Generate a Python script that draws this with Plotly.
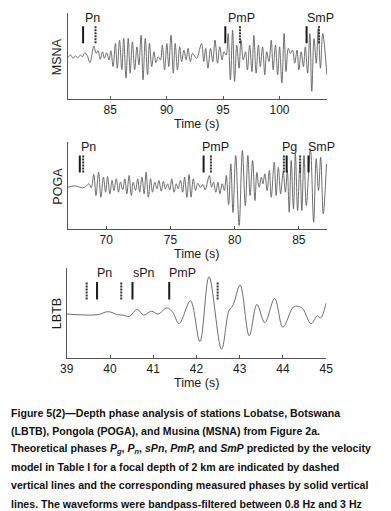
import plotly.graph_objects as go

W, H = 391, 511

# ---------------- data ----------------
MSNA_T = [81.27, 81.50, 81.70, 81.90, 82.12, 82.35, 82.55, 82.75, 82.98, 83.21,
          83.55, 83.75, 83.92, 84.12, 84.32, 84.49, 84.69, 84.89, 85.06, 85.26,
          85.46, 85.63, 85.83, 86.03, 86.20, 86.40, 86.60, 86.77, 86.97, 87.17,
          87.37, 87.54, 87.74, 87.91, 88.11, 88.31, 88.48, 88.68, 88.88, 89.05,
          89.25, 89.45, 89.62, 89.82, 90.02, 90.19, 90.39, 90.59, 90.76, 90.96,
          91.16, 91.33, 91.53, 91.73, 91.90, 92.10, 92.30,
          92.66, 93.09, 93.29, 93.46, 93.66, 93.89, 94.09, 94.29, 94.51, 94.71,
          94.91, 95.08, 95.28, 95.45, 95.65, 95.85, 96.02, 96.22, 96.42, 96.59,
          96.79, 96.99, 97.16, 97.36, 97.56, 97.73, 97.93, 98.13, 98.30, 98.50,
          98.70, 98.87, 99.07, 99.27, 99.44, 99.64, 99.84, 100.01, 100.21, 100.41,
          100.58, 100.78, 100.98, 101.15, 101.35, 101.55, 101.72, 101.92, 102.12, 102.29,
          102.49, 102.69, 102.86, 103.06, 103.26, 103.43, 103.63, 103.83, 104.20]
MSNA_A = [-0.3, 2, -1.3, 1, -0.7, 1.7, 0.3, 4.3, 1, -5.7,
          11, 3.7, 6.3, -2.3, 5.3, -1.3, 4.3, -3, 6.3, -9.7,
          13.7, -11.3, 17, -13, 18.7, -21.3, 18.7, -16.3, 15.3, -13,
          10.3, -8, 22, -23, 18.7, -18, 13.7, -9.7, 5.3, -5.7,
          0.3, -3, 12, -13, 13.7, -9.7, 22, -16.3, 13.7, -13,
          10.3, -4.7, 7, -3, 8.7, -4.7, 3.7,
          -1.3, 13.7, -4.7, 8.7, -11.3, 8.7, -4.7, 17, -6.3, 10.3,
          -3, 5.3, 2, 23.7, -23, 27, -24.7, 12, -11.3, 17,
          -3, 5.3, -13, 12, -14.7, 22, -16.3, 12, -9.7, 10.3,
          -18, 5.3, -4.7, 17, -13, 12, -18, 10.3, -26.3, 23.7,
          -14.7, 8.7, 3.7, 7, -6.3, 7, -13, 5.3, -9.7, 10.3,
          -16.3, 23.7, -34.7, 18.7, -6.3, 28.7, -11.3, 23.7, -18]

POGA_T = [67.03, 67.53, 68.15, 68.40, 68.65, 68.83, 69.03, 69.20, 69.40, 69.58,
          69.78, 69.95, 70.10, 70.28, 70.45, 70.60, 70.78, 70.95, 71.10, 71.28,
          71.45, 71.60, 71.78, 71.95, 72.10, 72.28, 72.45, 72.60, 72.78, 72.95,
          73.10, 73.28, 73.45, 73.60, 73.78, 73.95, 74.10, 74.28, 74.45, 74.60,
          74.78, 74.95, 75.10, 75.28, 75.45, 75.60, 75.78, 75.95, 76.10, 76.28,
          76.45, 76.60, 76.78, 76.95,
          77.13, 77.33, 77.53, 77.70, 78.03, 78.20, 78.35, 78.53, 78.70, 78.85,
          79.03, 79.20, 79.35, 79.53, 79.70, 79.87, 80.08, 80.35, 80.60, 80.83,
          81.03, 81.20, 81.40, 81.58, 81.73, 81.90, 82.08, 82.20, 82.35, 82.53,
          82.70, 82.85, 83.08, 83.23, 83.40, 83.58, 83.78, 83.95, 84.10, 84.25,
          84.40, 84.58, 84.73, 84.90, 85.08, 85.23, 85.40, 85.58, 85.90, 86.15,
          86.35, 86.53, 86.70, 86.90, 87.15]
POGA_A = [-0.7, 0.7, -1.3, 0, 2.7, -1.3, 12, -9, 14.3, -10.7,
          9.3, -5.7, 10, -7.3, 6, -4, 7.7, -5.7, 4.3, -3.3,
          7.7, -7.3, 11, -9, 4.3, -4, 7.7, -5.7, 9.3, -7.3,
          14.3, -10.7, 7.7, -5.7, 4.3, -2.3, 6, -4.7, 5.3, -2.3,
          2.7, -3.3, 7.7, -5.7, 2.7, -2.3, 6, -5.7, 9.3, -10.7,
          12, -10.7, 7.7, -4,
          3.3, -1, 2, -3.3, 11, -0.7, 4.3, -5.7, 4.3, -7.3,
          2.7, -4, 11, -18, 22.7, -26, 31, -39, 36, -19,
          31, -9, 26, -14, 14, -0.7, 9.3, 2.7, 12.7, -4,
          16, -10.7, 24.3, -9, 19.3, -7.3, 14.3, -5.7, 16, -25.7,
          26, -22.3, 32.7, -24, 22.7, -24, 31, -19, 37.7, -35.7,
          27.7, -4, 29.3, -27.3, 22.7]

LBTB_T = [39.00, 39.70, 39.96, 40.18, 40.30, 40.44, 40.63, 40.78, 40.96, 41.11,
          41.32, 41.45, 41.60, 41.86, 42.08, 42.29, 42.58, 42.75, 42.85, 43.01,
          43.22, 43.40, 43.58, 43.81, 44.00, 44.24, 44.35, 44.46, 44.65, 44.80,
          44.87, 45.00]
LBTB_A = [0, -0.7, 2.3, -0.7, -1, -2.3, 4.3, -1, 2.7, 0,
          6, 1.7, -9.3, 12.7, -26.7, 36, -34, 3, 9, 28,
          -21, 9.3, -8.3, 15, -12.7, 6.7, 7.5, 5, -9.3, -1.7,
          -4, 10.7]

# phase picks (s): measured = solid, theoretical = dashed
MSNA_SOLID = [82.6, 95.2, 102.4]
MSNA_DASHED = [83.7, 96.5, 103.5]
MSNA_LABELS = ["Pn", "PmP", "SmP"]
MSNA_LABEL_T = [83.4, 96.6, 103.6]

POGA_SOLID = [67.94, 77.58, 84.05, 85.75]
POGA_DASHED = [68.2, 78.15, 83.83, 85.10]
POGA_LABELS = ["Pn", "PmP", "Pg", "SmP"]
POGA_LABEL_T = [68.58, 78.53, 84.28, 86.73]

LBTB_SOLID = [39.70, 40.52, 41.37]
LBTB_DASHED = [39.46, 40.26, 42.49]
LBTB_LABELS = ["Pn", "sPn", "PmP"]
LBTB_LABEL_T = [39.88, 40.78, 41.67]

STATIONS = ["MSNA", "POGA", "LBTB"]
X_TICKS = [[85, 90, 95, 100], [70, 75, 80, 85], [39, 40, 41, 42, 43, 44, 45]]
X_RANGES = [[81.24, 104.22], [67.0, 87.2], [39.0, 45.0]]

CAPTION = [
    "Figure 5(2)\u2014Depth phase analysis of stations Lobatse, Botswana",
    "(LBTB), Pongola (POGA), and Musina (MSNA) from Figure 2a.",
    "Theoretical phases <i>P<sub>g</sub></i>, <i>P<sub>n</sub></i>, <i>sPn</i>, <i>PmP,</i> and <i>SmP</i> predicted by the velocity",
    "model in Table I for a focal depth of 2 km are indicated by dashed",
    "vertical lines and the corresponding measured phases by solid vertical",
    "lines. The waveforms were bandpass-filtered between 0.8 Hz and 3 Hz",
]

# ---------------- layout geometry (pixels) ----------------
panels = [
    dict(x0=63, x1=332, top=13, bot=99),
    dict(x0=63, x1=332, top=142, bot=229),
    dict(x0=62, x1=331, top=268, bot=358),
]
Y_RANGE = [-42.5, 44.5]
MARK_Y = [14, 31]
LABEL_Y = 39.5

data_sets = [
    (MSNA_T, MSNA_A, MSNA_SOLID, MSNA_DASHED, MSNA_LABELS, MSNA_LABEL_T),
    (POGA_T, POGA_A, POGA_SOLID, POGA_DASHED, POGA_LABELS, POGA_LABEL_T),
    (LBTB_T, LBTB_A, LBTB_SOLID, LBTB_DASHED, LBTB_LABELS, LBTB_LABEL_T),
]

FONT = "Liberation Sans, Arial, sans-serif"
fig = go.Figure()
annotations = []


def px_x(p):
    return p / W


def px_y(p):
    return 1 - p / H


for i, (t, a, sol, das, labs, labt) in enumerate(data_sets):
    n = "" if i == 0 else str(i + 1)
    xa, ya = "x" + n, "y" + n
    fig.add_trace(go.Scatter(x=t, y=a, mode="lines", xaxis=xa, yaxis=ya,
                             line=dict(color="#5e5e5e", width=0.9, shape="spline", smoothing=1.0),
                             hoverinfo="skip", showlegend=False))
    sx, sy = [], []
    for v in sol:
        sx += [v, v, None]
        sy += [MARK_Y[0], MARK_Y[1], None]
    fig.add_trace(go.Scatter(x=sx, y=sy, mode="lines", xaxis=xa, yaxis=ya,
                             line=dict(color="#1a1a1a", width=2),
                             hoverinfo="skip", showlegend=False))
    dx, dy = [], []
    for v in das:
        dx += [v, v, None]
        dy += [MARK_Y[0], MARK_Y[1], None]
    fig.add_trace(go.Scatter(x=dx, y=dy, mode="lines", xaxis=xa, yaxis=ya,
                             line=dict(color="#333333", width=2, dash="2px,1px"),
                             hoverinfo="skip", showlegend=False))
    for lab, lt in zip(labs, labt):
        annotations.append(dict(x=lt, y=LABEL_Y, xref=xa, yref=ya, text=lab,
                                showarrow=False, xanchor="center", yanchor="middle",
                                font=dict(family=FONT, size=12.5, color="#1a1a1a")))
    p = panels[i]
    axis_common = dict(showgrid=False, zeroline=False, showline=True,
                       linecolor="#555555", linewidth=1)
    fig.layout["xaxis" + n] = dict(
        domain=[px_x(p["x0"]), px_x(p["x1"])], anchor=ya, range=X_RANGES[i],
        tickvals=X_TICKS[i], ticktext=[str(v) for v in X_TICKS[i]],
        ticks="inside", ticklen=3, tickcolor="#555555",
        tickfont=dict(family=FONT, size=12, color="#1a1a1a"), **axis_common)
    fig.layout["yaxis" + n] = dict(
        domain=[px_y(p["bot"]), px_y(p["top"])], anchor=xa, range=Y_RANGE,
        showticklabels=False, ticks="", **axis_common)
    annotations.append(dict(x=px_x(52), y=px_y((p["top"] + p["bot"]) / 2 + 1), xref="paper", yref="paper",
                            text=STATIONS[i], textangle=-90, showarrow=False,
                            xanchor="center", yanchor="middle",
                            font=dict(family=FONT, size=12.5, color="#1a1a1a")))
    annotations.append(dict(x=px_x(197), y=px_y(p["bot"] + 25), xref="paper", yref="paper",
                            text="Time (s)", showarrow=False,
                            xanchor="center", yanchor="middle",
                            font=dict(family=FONT, size=12.5, color="#1a1a1a")))

CAP_Y0 = 412.5
CAP_DY = 18.2
for k, line in enumerate(CAPTION):
    annotations.append(dict(x=px_x(2), y=px_y(CAP_Y0 + k * CAP_DY), xref="paper", yref="paper",
                            text="<b>" + line + "</b>", showarrow=False,
                            xanchor="left", yanchor="middle",
                            font=dict(family="Liberation Sans, Arial, sans-serif",
                                      size=10.6, color="#111111")))

fig.update_layout(width=W, height=H, margin=dict(l=0, r=0, t=0, b=0),
                  paper_bgcolor="white", plot_bgcolor="white",
                  annotations=annotations, showlegend=False)

fig.write_html("out.html", config={"displayModeBar": False},
               post_script="document.body.style.margin='0px';document.body.style.overflow='hidden';")
